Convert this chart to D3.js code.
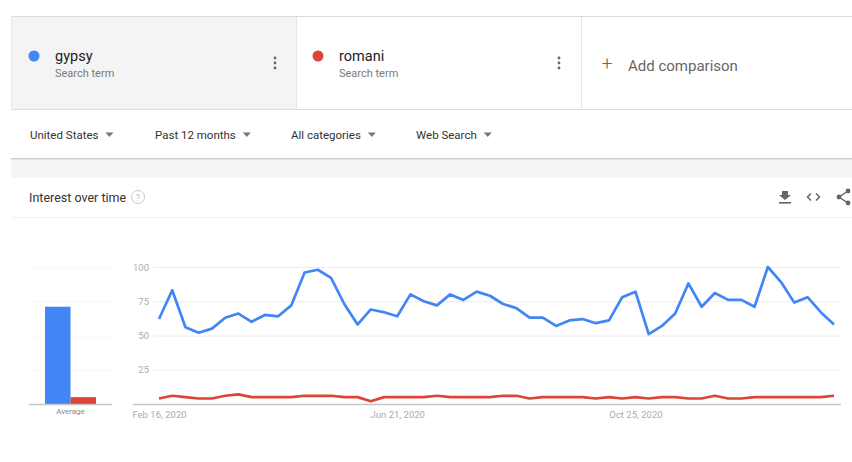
<!DOCTYPE html>
<html>
<head>
<meta charset="utf-8">
<script src="https://cdn.jsdelivr.net/npm/d3@7"></script>
<style>
  html, body { margin: 0; padding: 0; background: #fff; }
  svg { display: block; font-family: Roboto, "Open Sans", sans-serif; }
</style>
</head>
<body>
<div id="chart"></div>
<script>
const width = 852, height = 462;

// search terms and colours
const terms = ["gypsy", "romani"];
const termColors = ["#4285f4", "#db4437"];
const filters = ["United States", "Past 12 months", "All categories", "Web Search"];

// weekly interest, Feb 16 2020 .. Feb 7 2021
const gypsy = [62,83,56,52,55,63,66,60,65,64,72,96,98,92,73,58,69,67,64,80,
               75,72,80,76,82,79,73,70,63,63,57,61,62,59,61,78,82,51,57,66,
               88,71,81,76,76,71,100,89,74,78,67,58];
const romani = [4,6,5,4,4,6,7,5,5,5,5,6,6,6,5,5,
                2,5,5,5,5,6,5,5,5,5,6,6,4,5,5,5,5,4,
                5,4,5,4,5,5,4,4,6,4,4,5,5,5,5,5,5,6];
const averages = [71, 5];
const yTicks = [25, 50, 75, 100];
const xTickLabels = ["Feb 16, 2020", "Jun 21, 2020", "Oct 25, 2020"];

const weeks = d3.timeWeek.range(new Date(2020, 1, 16), new Date(2021, 1, 8));
const parse = d3.timeParse("%b %d, %Y");

const svg = d3.select("#chart").append("svg")
    .attr("width", width)
    .attr("height", height);

// ---- search term header ----
const head = svg.append("g");
head.append("rect").attr("x", 11).attr("y", 16).attr("width", 285).attr("height", 93).attr("fill", "#f4f4f4");
head.append("line").attr("x1", 11).attr("x2", width).attr("y1", 16.5).attr("y2", 16.5).attr("stroke", "#dcdcdc");
head.append("line").attr("x1", 11).attr("x2", width).attr("y1", 109.5).attr("y2", 109.5).attr("stroke", "#dcdcdc");
head.append("line").attr("x1", 11.5).attr("x2", 11.5).attr("y1", 16).attr("y2", 110).attr("stroke", "#e6e6e6");
[296.5, 581.5].forEach(x => head.append("line").attr("x1", x).attr("x2", x)
    .attr("y1", 17).attr("y2", 109).attr("stroke", "#e6e6e6"));

const termX = [34, 318];
terms.forEach((t, i) => {
  const g = head.append("g").attr("transform", `translate(${termX[i]},0)`);
  g.append("circle").attr("cx", 0).attr("cy", 56).attr("r", 5.5).attr("fill", termColors[i]);
  g.append("text").attr("x", 21).attr("y", 61).attr("font-size", 14.5).attr("fill", "#222").text(t);
  g.append("text").attr("x", 21).attr("y", 77).attr("font-size", 11).attr("fill", "#7a7a7a").text("Search term");
  [58, 63, 68].forEach(cy => g.append("circle").attr("cx", 241).attr("cy", cy).attr("r", 1.4).attr("fill", "#666"));
});
head.append("text").attr("x", 607).attr("y", 70).attr("font-size", 19).attr("font-weight", 300)
    .attr("text-anchor", "middle").attr("fill", "#666").text("+");
head.append("text").attr("x", 628).attr("y", 71).attr("font-size", 15).attr("fill", "#666").text("Add comparison");

// ---- filter row ----
const filterX = [30, 155, 291, 416];
const fg = svg.append("g");
filters.forEach((f, i) => {
  const t = fg.append("text").attr("x", filterX[i]).attr("y", 139).attr("font-size", 11.5).attr("fill", "#333").text(f);
  const w = t.node().getComputedTextLength();
  const ax = filterX[i] + w + 11;
  fg.append("path").attr("d", `M${ax - 4},132.5 L${ax + 4},132.5 L${ax},137 Z`).attr("fill", "#777");
});
svg.append("rect").attr("x", 11).attr("y", 159).attr("width", width - 11).attr("height", 19).attr("fill", "#f5f5f5");
svg.append("line").attr("x1", 11).attr("x2", width).attr("y1", 158.5).attr("y2", 158.5).attr("stroke", "#cfcfcf");
svg.append("line").attr("x1", 11).attr("x2", width).attr("y1", 159.5).attr("y2", 159.5).attr("stroke", "#e4e4e4");

// ---- card title ----
svg.append("text").attr("x", 29).attr("y", 202).attr("font-size", 12.5).attr("fill", "#333").text("Interest over time");
svg.append("circle").attr("cx", 138).attr("cy", 197).attr("r", 6.5).attr("fill", "none").attr("stroke", "#c8c8c8");
svg.append("text").attr("x", 138).attr("y", 200.5).attr("font-size", 9).attr("text-anchor", "middle").attr("fill", "#bbb").text("?");
svg.append("line").attr("x1", 11).attr("x2", width).attr("y1", 217.5).attr("y2", 217.5).attr("stroke", "#f1f1f1");

// icons
const ic = svg.append("g").attr("fill", "#666").attr("stroke", "#666");
ic.append("path").attr("d", "M782,191 L788,191 L788,195 L791,195 L785,200 L779,195 L782,195 Z").attr("stroke", "none");
ic.append("rect").attr("x", 779).attr("y", 202).attr("width", 12).attr("height", 1.6).attr("stroke", "none");
ic.append("path").attr("d", "M811,193.5 L807.5,197 L811,200.5 M816,193.5 L819.5,197 L816,200.5").attr("fill", "none").attr("stroke-width", 1.5);
ic.append("path").attr("d", "M848,191 L839,197 L848,203").attr("fill", "none").attr("stroke-width", 1.5);
[[848, 191], [839, 197], [848, 203]].forEach(p => ic.append("circle").attr("cx", p[0]).attr("cy", p[1]).attr("r", 2.4).attr("stroke", "none"));

// ---- scales ----
const x = d3.scaleTime().domain(d3.extent(weeks)).range([159, 834]);
const y = d3.scaleLinear().domain([0, 100]).range([404, 267]);

// ---- average bars ----
const xb = d3.scaleBand().domain(["Average"]).range([29, 112]);
const xs = d3.scaleBand().domain(terms).range([45, 96]);
const bg = svg.append("g");
bg.selectAll("line.grid").data(yTicks).join("line")
    .attr("x1", 29).attr("x2", 112)
    .attr("y1", d => y(d) + 0.5).attr("y2", d => y(d) + 0.5)
    .attr("stroke", "#f6f6f6");
bg.selectAll("rect").data(averages).join("rect")
    .attr("x", (d, i) => xs(terms[i]))
    .attr("width", xs.bandwidth())
    .attr("y", d => y(d))
    .attr("height", d => y(0) - y(d))
    .attr("fill", (d, i) => termColors[i]);
bg.append("line").attr("x1", 29).attr("x2", 112).attr("y1", y(0) + 0.5).attr("y2", y(0) + 0.5).attr("stroke", "#c4c4c4").attr("stroke-width", 1.5);
bg.append("text").attr("x", xb("Average") + xb.bandwidth() / 2).attr("y", 414)
    .attr("text-anchor", "middle").attr("font-size", 8).attr("fill", "#888").text("Average");

// ---- line chart ----
const main = svg.append("g");
main.selectAll("line.grid").data(yTicks).join("line")
    .attr("x1", 153).attr("x2", 841)
    .attr("y1", d => y(d) + 0.5).attr("y2", d => y(d) + 0.5)
    .attr("stroke", "#ececec");
main.selectAll("text.ytick").data(yTicks).join("text")
    .attr("x", 149).attr("y", d => y(d) + 3.5)
    .attr("text-anchor", "end").attr("font-size", 9.5).attr("fill", "#aaa")
    .text(d => d);

const xAxis = d3.axisBottom(x)
    .tickValues(xTickLabels.map(parse))
    .tickSize(0).tickPadding(7)
    .tickFormat(d3.timeFormat("%b %-d, %Y"));
const ax = main.append("g").attr("transform", `translate(0,${y(0)})`).call(xAxis);
ax.select(".domain").remove();
ax.selectAll("text").attr("font-size", 9.5).attr("fill", "#aaa").attr("font-family", "Roboto, sans-serif");
main.append("line").attr("x1", 133).attr("x2", 841).attr("y1", y(0) + 0.5).attr("y2", y(0) + 0.5)
    .attr("stroke", "#c4c4c4").attr("stroke-width", 1.5);

const line = d3.line().x((d, i) => x(weeks[i])).y(d => y(d));
[gypsy, romani].forEach((series, i) => {
  main.append("path").datum(series)
      .attr("d", line)
      .attr("fill", "none")
      .attr("stroke", termColors[i])
      .attr("stroke-width", 2.7)
      .attr("stroke-linejoin", "round");
});
</script>
</body>
</html>
